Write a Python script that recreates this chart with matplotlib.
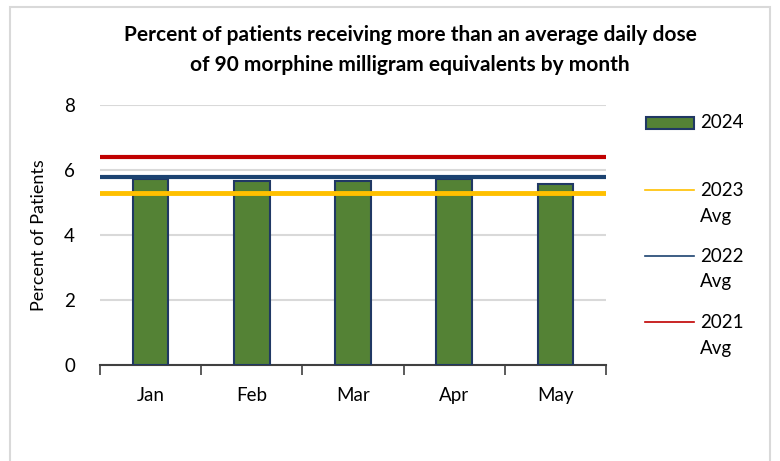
import matplotlib
matplotlib.use("Agg")
import matplotlib.pyplot as plt
from matplotlib.lines import Line2D
from matplotlib.patches import Rectangle
import numpy as np

months = ["Jan", "Feb", "Mar", "Apr", "May"]
values_2024 = [5.72, 5.67, 5.67, 5.71, 5.57]
avg_2023 = 5.30
avg_2022 = 5.80
avg_2021 = 6.39
yticks = [0, 2, 4, 6, 8]

plt.rcParams['font.family'] = ['Lato', 'DejaVu Sans']

fig = plt.figure(figsize=(7.8, 4.61), dpi=100)
fig.patches.append(Rectangle((10/780, -0.01), 760/780, 1 - 7/461 + 0.01, transform=fig.transFigure,
                             fill=False, edgecolor="#D9D9D9", linewidth=1.5))

ax = fig.add_axes([100/780, 1 - 365/461, 506/780, 260/461])
x = np.arange(len(months))
ax.bar(x, values_2024, width=0.35, color="#548235", edgecolor="#203864", linewidth=1.5, zorder=3)
ax.axhline(avg_2023, color="#FFC000", linewidth=3.5, zorder=4)
ax.axhline(avg_2022, color="#1B4270", linewidth=3, zorder=4)
ax.axhline(avg_2021, color="#C00000", linewidth=3, zorder=4)

ax.set_xlim(-0.5, len(months) - 0.5)
ax.set_ylim(0, 8)
ax.set_yticks(yticks)
ax.set_yticklabels([str(t) for t in yticks], fontsize=13.5)
ax.yaxis.grid(True, color="#D9D9D9", linewidth=1.5, zorder=0)
ax.set_axisbelow(True)
ax.tick_params(axis='y', length=0, pad=18)
ax.set_xticks(x)
ax.set_xticklabels(months, fontsize=13.5)
ax.set_xticks(np.arange(-0.5, len(months), 1), minor=True)
ax.tick_params(axis='x', which='major', length=0, pad=16)
ax.tick_params(axis='x', which='minor', length=7, width=1.2, color="#404040", direction='out')
for s in ["left", "right", "top"]:
    ax.spines[s].set_visible(False)
ax.spines["bottom"].set_color("#404040")
ax.spines["bottom"].set_linewidth(1.5)
ax.set_ylabel("Percent of Patients", fontsize=13, labelpad=12)

fig.text(410/780, 1 - 35/461, "Percent of patients receiving more than an average daily dose",
         ha="center", va="center", fontsize=15, fontweight="bold")
fig.text(410/780, 1 - 65/461, "of 90 morphine milligram equivalents by month",
         ha="center", va="center", fontsize=15, fontweight="bold")

# legend
fig.patches.append(Rectangle((646/780, 1 - 129/461), 48/780, 12/461, transform=fig.transFigure,
                             facecolor="#548235", edgecolor="#203864", linewidth=1.5))
fig.text(700/780, 1 - 123/461, "2024", ha="left", va="center", fontsize=13.5)
for yy, col, lab in [(190, "#FFC000", "2023"), (256, "#1B4270", "2022"), (322, "#C00000", "2021")]:
    fig.lines.append(Line2D([645/780, 694/780], [1 - yy/461, 1 - yy/461], transform=fig.transFigure,
                            color=col, linewidth=1.2))
    fig.text(700/780, 1 - yy/461, lab, ha="left", va="center", fontsize=13.5)
    fig.text(700/780, 1 - (yy + 26)/461, "Avg", ha="left", va="center", fontsize=13.5)

fig.savefig("out.png", dpi=100)
